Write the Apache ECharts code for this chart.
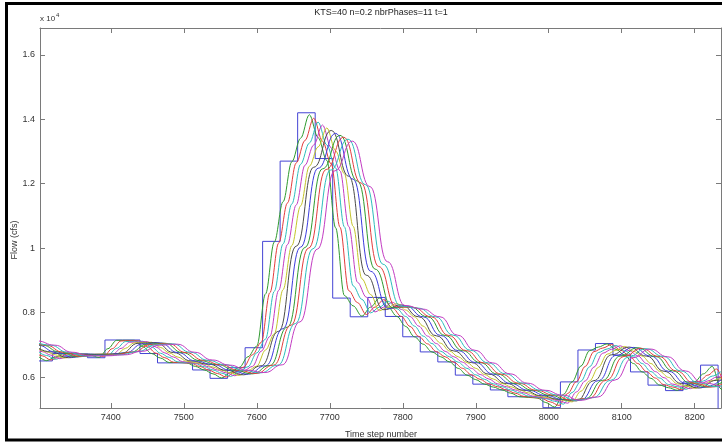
<!DOCTYPE html>
<html><head><meta charset="utf-8">
<script src="https://cdn.jsdelivr.net/npm/echarts@6/dist/echarts.min.js"></script>
<style>html,body{margin:0;padding:0;background:#fff}#c{width:722px;height:443px}</style>
</head><body><div id="c"></div>
<script>
// Time step at the start of each 24-step inflow period
const periodStart = [7200,7224,7248,7272,7296,7320,7344,7368,7392,7416,7440,7464,7488,7512,7536,7560,7584,7608,7632,7656,7680,7704,7728,7752,7776,7800,7824,7848,7872,7896,7920,7944,7968,7992,8016,8040,8064,8088,8112,8136,8160,8184,8208,8232,8256];
// Inflow (x 10^4 cfs) per period (blue step line)
const inflow = [0.720,0.715,0.700,0.680,0.650,0.673,0.673,0.660,0.715,0.715,0.673,0.644,0.644,0.622,0.596,0.629,0.691,1.021,1.270,1.420,1.278,0.845,0.787,0.847,0.788,0.725,0.678,0.647,0.606,0.578,0.560,0.539,0.536,0.505,0.585,0.684,0.704,0.668,0.616,0.575,0.558,0.585,0.637,0.490,0.490];

const xTicks = [7400,7500,7600,7700,7800,7900,8000,8100,8200];
const yTicks = [0.6,0.8,1.0,1.2,1.4,1.6];

// Routed phases: first sample time and sample spacing (time steps)
const phaseStart = [7300,7294,7300,7294,7300,7294,7276,7282,7287,7293,7275];
const phaseStep  = [12,12,12,12,12,24,24,24,24,24,24];

const phase1 = [0.665,0.651,0.662,0.673,0.673,0.673,0.667,0.661,0.688,0.714,0.714,0.714,0.694,0.673,0.659,0.645,0.645,0.644,0.633,0.622,0.610,0.597,0.614,0.630,0.663,0.696,0.858,1.019,1.144,1.268,1.341,1.414,1.343,1.272,1.063,0.853,0.821,0.789,0.817,0.845,0.817,0.788,0.757,0.725,0.702,0.678,0.663,0.647,0.627,0.606,0.592,0.578,0.569,0.560,0.550,0.539,0.537,0.535,0.521,0.507,0.546,0.585,0.634,0.682,0.693,0.703,0.686,0.668,0.642,0.616,0.596,0.575,0.567,0.559,0.573,0.586,0.610,0.633,0.563,0.493];
const phase2 = [0.679,0.666,0.653,0.663,0.672,0.672,0.672,0.668,0.664,0.688,0.712,0.713,0.713,0.694,0.674,0.660,0.646,0.645,0.643,0.633,0.622,0.611,0.600,0.616,0.631,0.669,0.707,0.862,1.016,1.140,1.264,1.334,1.403,1.332,1.261,1.065,0.868,0.831,0.794,0.817,0.840,0.814,0.788,0.757,0.726,0.703,0.679,0.663,0.646,0.627,0.607,0.593,0.579,0.570,0.560,0.550,0.540,0.537,0.534,0.523,0.512,0.549,0.586,0.633,0.679,0.690,0.701,0.684,0.667,0.642,0.617,0.597,0.576,0.569,0.561,0.574,0.587,0.606,0.625,0.562];
const phase3 = [0.679,0.667,0.655,0.663,0.671,0.672,0.672,0.670,0.667,0.689,0.710,0.711,0.711,0.693,0.674,0.661,0.647,0.645,0.642,0.632,0.622,0.612,0.602,0.617,0.632,0.675,0.718,0.866,1.013,1.137,1.260,1.326,1.391,1.320,1.249,1.066,0.883,0.841,0.799,0.817,0.835,0.812,0.788,0.758,0.727,0.704,0.680,0.663,0.646,0.627,0.607,0.593,0.579,0.570,0.560,0.551,0.541,0.537,0.533,0.525,0.516,0.552,0.587,0.632,0.676,0.687,0.698,0.682,0.666,0.642,0.617,0.597,0.577,0.570,0.562,0.575,0.588,0.603,0.617];
const phase4 = [0.689,0.679,0.668,0.657,0.664,0.670,0.671,0.671,0.670,0.669,0.689,0.708,0.709,0.710,0.693,0.675,0.662,0.648,0.645,0.641,0.632,0.622,0.613,0.604,0.619,0.633,0.680,0.726,0.869,1.011,1.134,1.257,1.320,1.382,1.311,1.240,1.067,0.894,0.848,0.802,0.817,0.832,0.810,0.788,0.758,0.727,0.704,0.680,0.663,0.646,0.627,0.608,0.594,0.579,0.570,0.560,0.551,0.541,0.537,0.532,0.526,0.519,0.554,0.588,0.631,0.674,0.686,0.697,0.682,0.666,0.642,0.617,0.598,0.578,0.571,0.564,0.576,0.588,0.600,0.611];
const phase5 = [0.689,0.678,0.669,0.659,0.664,0.669,0.670,0.671,0.671,0.671,0.689,0.706,0.707,0.708,0.692,0.675,0.662,0.649,0.645,0.641,0.631,0.621,0.613,0.605,0.620,0.634,0.684,0.734,0.871,1.008,1.131,1.254,1.314,1.373,1.302,1.231,1.068,0.905,0.856,0.806,0.817,0.828,0.808,0.787,0.758,0.728,0.705,0.681,0.663,0.645,0.627,0.608,0.594,0.580,0.570,0.560,0.551,0.542,0.537,0.532,0.528,0.523,0.556,0.588,0.630,0.671,0.683,0.695,0.680,0.665,0.642,0.618,0.599,0.579,0.572,0.565,0.577,0.589,0.597];
const phase6 = [0.699,0.678,0.660,0.669,0.671,0.673,0.705,0.707,0.676,0.650,0.640,0.621,0.607,0.635,0.742,1.006,1.251,1.365,1.223,0.916,0.809,0.824,0.787,0.728,0.681,0.645,0.609,0.580,0.559,0.542,0.531,0.526,0.589,0.669,0.693,0.665,0.618,0.580,0.566,0.590,0.599];
const phase7 = [0.713,0.699,0.678,0.662,0.668,0.670,0.675,0.703,0.706,0.676,0.650,0.639,0.621,0.609,0.635,0.750,1.003,1.248,1.356,1.214,0.928,0.813,0.821,0.787,0.729,0.682,0.645,0.609,0.580,0.559,0.543,0.530,0.529,0.589,0.667,0.692,0.665,0.618,0.580,0.568,0.591];
const phase8 = [0.713,0.699,0.678,0.663,0.668,0.670,0.676,0.702,0.705,0.676,0.651,0.639,0.621,0.610,0.636,0.755,1.002,1.246,1.350,1.208,0.935,0.815,0.818,0.787,0.729,0.682,0.645,0.609,0.580,0.559,0.543,0.529,0.532,0.590,0.665,0.691,0.664,0.619,0.581,0.569,0.591];
const phase9 = [0.712,0.699,0.677,0.664,0.667,0.670,0.678,0.701,0.704,0.676,0.652,0.638,0.621,0.611,0.637,0.761,1.000,1.244,1.344,1.202,0.943,0.818,0.816,0.787,0.729,0.682,0.644,0.609,0.581,0.559,0.544,0.529,0.534,0.590,0.664,0.689,0.664,0.619,0.581,0.569,0.592];
const phase10 = [0.712,0.699,0.677,0.665,0.667,0.669,0.679,0.700,0.703,0.677,0.652,0.638,0.621,0.613,0.637,0.766,0.998,1.242,1.338,1.197,0.950,0.820,0.814,0.787,0.730,0.683,0.644,0.610,0.581,0.559,0.544,0.528,0.536,0.590,0.662,0.688,0.664,0.619,0.582,0.570,0.592];
const phase11 = [0.720,0.712,0.699,0.677,0.666,0.666,0.669,0.680,0.699,0.702,0.677,0.653,0.637,0.621,0.614,0.638,0.771,0.997,1.240,1.332,1.191,0.958,0.822,0.811,0.787,0.730,0.683,0.644,0.610,0.581,0.559,0.544,0.528,0.538,0.591,0.660,0.687,0.663,0.619,0.582,0.571];

const phases = [phase1,phase2,phase3,phase4,phase5,phase6,phase7,phase8,phase9,phase10,phase11];
const phaseColors = ['#2f9a2f','#e23c3c','#2cbcbc','#c23cc2','#c4c42a','#4a4a4a','#3c3cdc','#2f9a2f','#e23c3c','#2cbcbc','#c23cc2'];

const FONT = "'Liberation Sans', Arial, Helvetica, sans-serif";
const AX = '#7a7a7a';

const chart = echarts.init(document.getElementById('c'), null, {renderer:'canvas'});

const series = [{
  type:'line', step:'end', symbol:'none', animation:false,
  data: periodStart.map((t,i)=>[t, inflow[i]]),
  lineStyle:{color:'#4444d4', width:1}, z:2
}];
phases.forEach((p,k)=>{
  series.push({
    type:'line', symbol:'none', animation:false, smooth: phaseStep[k]===12 ? 0.35 : 0.5, smoothMonotone:'x',
    data: p.map((v,i)=>[phaseStart[k] + i*phaseStep[k], v]),
    lineStyle:{color:phaseColors[k], width:1}, z:3
  });
});

const xMin = 7303, xMax = 8236, yMin = 0.504, yMax = 1.683;
function xAx(pos, show){
  return {type:'value', position:pos, min:xMin, max:xMax,
    axisLine:{show:true, lineStyle:{color:AX, width:1}},
    axisTick:{show:true, inside:true, length:5, lineStyle:{color:AX}, customValues:xTicks},
    axisLabel:{show:show, customValues:xTicks, color:'#333', fontSize:9, fontFamily:FONT, margin:5,
      formatter:v=>String(Math.round(v))},
    splitLine:{show:false}};
}
function yAx(pos, show){
  return {type:'value', position:pos, min:yMin, max:yMax,
    axisLine:{show:true, lineStyle:{color:AX, width:1}},
    axisTick:{show:true, inside:true, length:5, lineStyle:{color:AX}, customValues:yTicks},
    axisLabel:{show:show, customValues:yTicks, color:'#333', fontSize:9, fontFamily:FONT, margin:5,
      formatter:v=>String(Math.round(v*10)/10)},
    splitLine:{show:false}};
}

chart.setOption({
  animation:false,
  backgroundColor:'#fff',
  grid:{left:40, top:28, width:681, height:380, containLabel:false},
  xAxis:[xAx('bottom', true), xAx('top', false)],
  yAxis:[yAx('left', true), yAx('right', false)],
  series: series,
  graphic:[
    {type:'rect', silent:true, z:100, shape:{x:6.5, y:3.5, width:800, height:436.5},
     style:{fill:'none', stroke:'#000', lineWidth:3}},
    {type:'text', silent:true, x:381, y:13, style:{text:'KTS=40 n=0.2 nbrPhases=11 t=1', fill:'#222', font:'9px '+FONT, textAlign:'center', textVerticalAlign:'middle'}},
    {type:'text', silent:true, x:40, y:19, style:{text:'{a|x 10}{b|4}', fill:'#333', textVerticalAlign:'middle',
      rich:{a:{fontSize:8, fontFamily:FONT, fill:'#333'}, b:{fontSize:6, fontFamily:FONT, fill:'#333', padding:[0,0,7,1]}}}},
    {type:'text', silent:true, x:15, y:240, rotation:Math.PI/2, style:{text:'Flow (cfs)', fill:'#333', font:'9px '+FONT, textAlign:'center', textVerticalAlign:'middle'}},
    {type:'text', silent:true, x:381, y:435, style:{text:'Time step number', fill:'#333', font:'9px '+FONT, textAlign:'center', textVerticalAlign:'middle'}}
  ]
});
</script>
</body></html>
